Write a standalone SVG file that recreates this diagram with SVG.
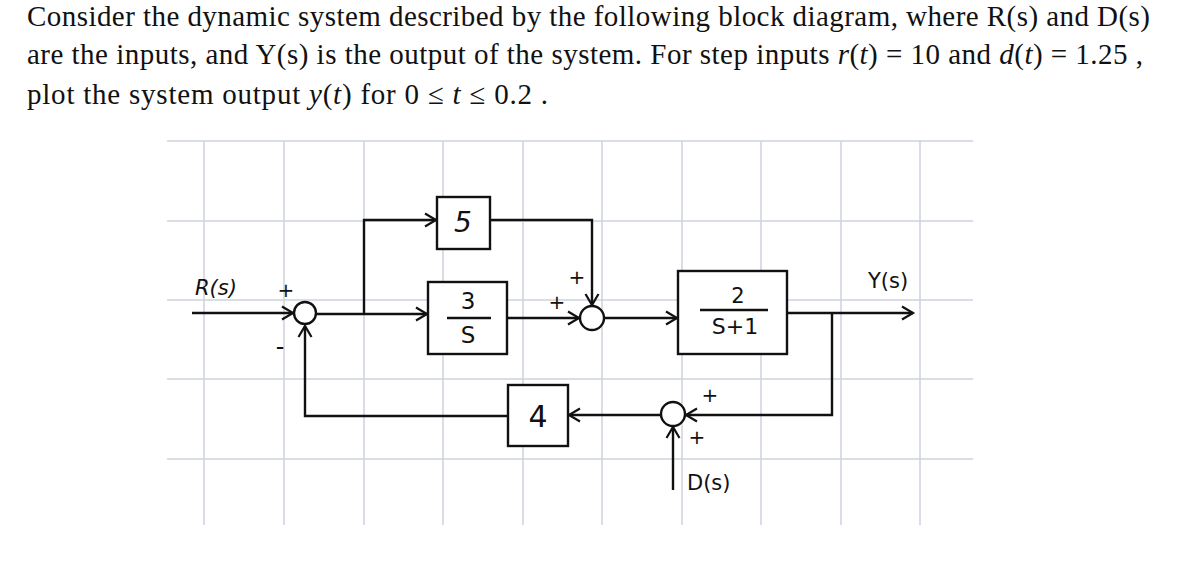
<svg xmlns="http://www.w3.org/2000/svg" width="1200" height="572" viewBox="0 0 1200 572">
<defs>
<style>
.q{font-family:"Liberation Serif","Times New Roman",serif;font-size:29px;fill:#111}
.i{font-style:italic}
.g{stroke:#cdd4de;stroke-width:1.5;fill:none}
.w{stroke:#111;stroke-width:2.4;fill:none}
.b{stroke:#111;stroke-width:2.4;fill:#fff}
.h{font-family:"DejaVu Sans","Noto Sans",sans-serif;fill:#111}
</style>
<marker id="a" markerUnits="userSpaceOnUse" markerWidth="16" markerHeight="16" refX="13" refY="8" orient="auto">
<path d="M2,1.5 L13,8 L2,14.5" fill="none" stroke="#111" stroke-width="2.2"/>
</marker>
</defs>
<rect width="1200" height="572" fill="#fff"/>
<g id="question">
<text class="q" x="27" y="26" textLength="1123" lengthAdjust="spacing">Consider the dynamic system described by the following block diagram, where R(s) and D(s)</text>
<text class="q" x="27" y="64" textLength="1116" lengthAdjust="spacing">are the inputs, and Y(s) is the output of the system. For step inputs <tspan class="i">r</tspan>(<tspan class="i">t</tspan>) = 10  and  <tspan class="i">d</tspan>(<tspan class="i">t</tspan>) = 1.25 ,</text>
<text class="q" x="27" y="104" textLength="521" lengthAdjust="spacing">plot the system output  <tspan class="i">y</tspan>(<tspan class="i">t</tspan>)  for  0 ≤ <tspan class="i">t</tspan> ≤ 0.2 .</text>
</g>
<g id="grid" class="g">
<path d="M204,141V525M284,141V525M364,141V525M443,141V525M523,141V525M602,141V525M682,141V525M761,141V525M841,141V525M920,141V525"/>
<path d="M167,141H973M167,221H973M167,300H973M167,379H973M167,459H973"/>
</g>
<g id="connectors" class="w">
<path d="M192,313H293" marker-end="url(#a)"/>
<path d="M316,314H427" marker-end="url(#a)"/>
<path d="M364,314V220H436" marker-end="url(#a)"/>
<path d="M490,220H592V305" marker-end="url(#a)"/>
<path d="M507,318H579" marker-end="url(#a)"/>
<path d="M604,318H677" marker-end="url(#a)"/>
<path d="M787,313H913" marker-end="url(#a)"/>
<path d="M832,313V415H686" marker-end="url(#a)"/>
<path d="M661,415H569" marker-end="url(#a)"/>
<path d="M508,416H305V326" marker-end="url(#a)"/>
<path d="M673,490V427" marker-end="url(#a)"/>
</g>
<g id="sum1"><circle class="b" cx="305" cy="313" r="11"/></g>
<g id="sum2"><circle class="b" cx="592" cy="318" r="12"/></g>
<g id="sum3"><circle class="b" cx="673" cy="414" r="12"/></g>
<g id="block5">
<rect class="b" x="437" y="197" width="53" height="52"/>
<text class="h" x="463" y="232" font-size="28" text-anchor="middle" font-style="italic">5</text>
</g>
<g id="block3s">
<rect class="b" x="428" y="282" width="79" height="72"/>
<text class="h" x="468" y="309" font-size="23" text-anchor="middle">3</text>
<path class="w" d="M447,318H491"/>
<text class="h" x="468" y="343" font-size="23" text-anchor="middle">S</text>
</g>
<g id="block2">
<rect class="b" x="678" y="271" width="109" height="83"/>
<text class="h" x="738" y="303" font-size="21" text-anchor="middle">2</text>
<path class="w" d="M700,310H768"/>
<text class="h" x="735" y="334" font-size="22" text-anchor="middle">S+1</text>
</g>
<g id="block4">
<rect class="b" x="508" y="385" width="60" height="61"/>
<text class="h" x="538" y="427" font-size="30" text-anchor="middle">4</text>
</g>
<g id="labels" class="h">
<text x="195" y="295" font-size="21" font-style="italic">R(s)</text>
<text x="868" y="288" font-size="21">Y(s)</text>
<text x="687" y="490" font-size="21">D(s)</text>
<text x="286" y="297" font-size="20" text-anchor="middle">+</text>
<text x="280" y="355" font-size="24" text-anchor="middle">-</text>
<text x="557" y="309" font-size="20" text-anchor="middle">+</text>
<text x="577" y="284" font-size="20" text-anchor="middle">+</text>
<text x="710" y="402" font-size="20" text-anchor="middle">+</text>
<text x="697" y="444" font-size="20" text-anchor="middle">+</text>
</g>
</svg>
